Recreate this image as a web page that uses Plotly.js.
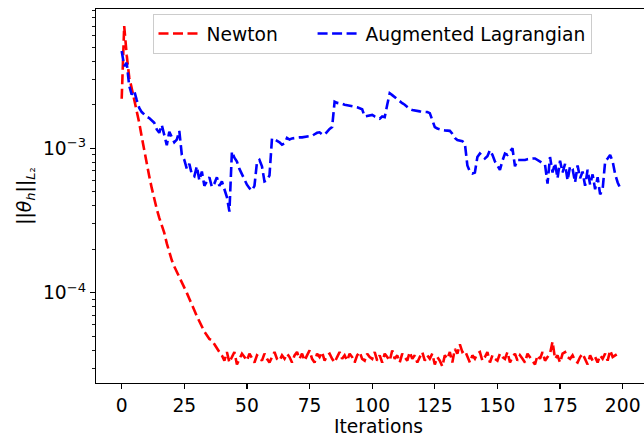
<!DOCTYPE html>
<html>
<head>
<meta charset="utf-8">
<script src="https://cdn.plot.ly/plotly-3.0.1.min.js"></script>
<style>
html, body { margin: 0; padding: 0; overflow: hidden; background: #fff; }
#chart { width: 680px; height: 439px; }
</style>
</head>
<body>
<div id="chart"></div>
<script>
const seriesNames = ["Newton", "Augmented Lagrangian"];

const newton = [
  2.2e-3, 7.0e-3, 4.4e-3, 3.1e-3, 2.6e-3, 2.2e-3, 1.85e-3, 1.5e-3, 1.2e-3, 9.6e-4,
  7.8e-4, 6.4e-4, 5.3e-4, 4.4e-4, 3.8e-4, 3.3e-4, 2.95e-4, 2.6e-4, 2.2e-4, 1.9e-4,
  1.68e-4, 1.52e-4, 1.4e-4, 1.28e-4, 1.2e-4, 1.1e-4, 1.0e-4, 9.1e-5, 8.4e-5, 7.6e-5,
  6.9e-5, 6.3e-5, 5.8e-5, 5.4e-5, 5.1e-5, 4.8e-5, 4.7e-5, 4.4e-5, 4.2e-5, 3.9e-5,
  3.7e-5, 3.4e-5, 3.9e-5, 3.3e-5, 3.6e-5, 3.9e-5, 3.2e-5, 3.5e-5, 3.8e-5, 3.6e-5,
  3.4e-5, 3.8e-5, 3.5e-5, 3.3e-5, 3.7e-5, 3.6e-5, 3.4e-5, 3.8e-5, 3.5e-5, 3.3e-5,
  3.6e-5, 3.9e-5, 3.5e-5, 3.4e-5, 3.7e-5, 3.5e-5, 3.8e-5, 3.6e-5, 3.3e-5, 3.7e-5,
  3.9e-5, 3.5e-5, 3.8e-5, 3.4e-5, 3.7e-5, 4.0e-5, 3.5e-5, 3.3e-5, 3.8e-5, 3.6e-5,
  3.9e-5, 3.4e-5, 3.7e-5, 3.8e-5, 3.5e-5, 3.3e-5, 3.6e-5, 3.9e-5, 3.5e-5, 3.7e-5,
  3.4e-5, 3.8e-5, 3.6e-5, 3.3e-5, 3.7e-5, 3.9e-5, 3.5e-5, 3.4e-5, 3.8e-5, 3.6e-5,
  3.5e-5, 3.9e-5, 3.4e-5, 3.7e-5, 3.3e-5, 3.8e-5, 3.6e-5, 3.4e-5, 4.0e-5, 3.5e-5,
  3.7e-5, 3.3e-5, 3.8e-5, 3.6e-5, 3.4e-5, 3.9e-5, 3.5e-5, 3.7e-5, 3.3e-5, 3.6e-5,
  3.9e-5, 3.4e-5, 3.7e-5, 3.5e-5, 3.8e-5, 3.2e-5, 3.6e-5, 3.4e-5, 3.1e-5, 3.7e-5,
  3.5e-5, 3.9e-5, 3.3e-5, 4.1e-5, 3.8e-5, 4.4e-5, 3.9e-5, 4.0e-5, 3.6e-5, 3.3e-5,
  3.7e-5, 3.5e-5, 3.8e-5, 3.9e-5, 3.4e-5, 3.6e-5, 3.9e-5, 3.3e-5, 3.7e-5, 3.5e-5,
  3.4e-5, 3.8e-5, 3.6e-5, 3.5e-5, 3.9e-5, 3.3e-5, 3.6e-5, 3.8e-5, 3.4e-5, 3.7e-5,
  3.5e-5, 3.3e-5, 3.8e-5, 3.6e-5, 3.4e-5, 3.2e-5, 3.7e-5, 3.5e-5, 3.9e-5, 3.4e-5,
  3.6e-5, 3.8e-5, 4.6e-5, 3.5e-5, 3.7e-5, 3.3e-5, 3.8e-5, 3.9e-5, 3.6e-5, 3.5e-5,
  3.7e-5, 3.4e-5, 3.3e-5, 3.6e-5, 3.8e-5, 3.5e-5, 3.2e-5, 3.7e-5, 3.4e-5, 3.6e-5,
  3.3e-5, 3.7e-5, 3.5e-5, 3.8e-5, 3.4e-5, 4.0e-5, 3.6e-5, 3.7e-5, 3.8e-5, 3.8e-5
];

const augLag = [
  4.7e-3, 3.7e-3, 3.9e-3, 2.7e-3, 2.35e-3, 2.5e-3, 2.15e-3, 1.9e-3, 1.78e-3, 1.7e-3,
  1.65e-3, 1.62e-3, 1.56e-3, 1.5e-3, 1.35e-3, 1.28e-3, 1.45e-3, 1.22e-3, 1.05e-3, 1.3e-3,
  1.2e-3, 1.1e-3, 1.15e-3, 1.32e-3, 9.0e-4, 8.3e-4, 7.2e-4, 7.8e-4, 6.6e-4, 6.4e-4,
  7.5e-4, 6.0e-4, 6.9e-4, 5.5e-4, 5.9e-4, 6.3e-4, 5.4e-4, 5.7e-4, 6.3e-4, 5.5e-4,
  5.9e-4, 5.2e-4, 4.6e-4, 3.65e-4, 9.5e-4, 8.6e-4, 8.1e-4, 7.2e-4, 6.6e-4, 6.0e-4,
  5.6e-4, 5.3e-4, 5.1e-4, 5.5e-4, 8.0e-4, 8.3e-4, 7.5e-4, 5.9e-4, 6.0e-4, 6.5e-4,
  1.17e-3, 1.15e-3, 1.13e-3, 1.1e-3, 1.06e-3, 1.08e-3, 1.18e-3, 1.15e-3, 1.17e-3, 1.18e-3,
  1.18e-3, 1.19e-3, 1.19e-3, 1.2e-3, 1.2e-3, 1.21e-3, 1.22e-3, 1.25e-3, 1.28e-3, 1.29e-3,
  1.25e-3, 1.24e-3, 1.3e-3, 1.36e-3, 1.4e-3, 2.1e-3, 2.06e-3, 2.05e-3, 2.03e-3, 2.0e-3,
  1.99e-3, 1.97e-3, 1.96e-3, 1.94e-3, 1.92e-3, 1.9e-3, 1.86e-3, 1.66e-3, 1.68e-3, 1.7e-3,
  1.7e-3, 1.66e-3, 1.62e-3, 1.6e-3, 1.66e-3, 1.64e-3, 2.0e-3, 2.4e-3, 2.33e-3, 2.25e-3,
  2.18e-3, 2.1e-3, 2.05e-3, 2.0e-3, 1.92e-3, 1.87e-3, 1.84e-3, 1.82e-3, 1.8e-3, 1.8e-3,
  1.79e-3, 1.79e-3, 1.78e-3, 1.75e-3, 1.58e-3, 1.4e-3, 1.37e-3, 1.35e-3, 1.34e-3, 1.33e-3,
  1.32e-3, 1.32e-3, 1.26e-3, 1.18e-3, 1.14e-3, 1.13e-3, 1.12e-3, 1.08e-3, 7.6e-4, 6.9e-4,
  6.7e-4, 6.8e-4, 8.7e-4, 9.2e-4, 8.8e-4, 8.5e-4, 8.8e-4, 9.7e-4, 9.0e-4, 8.1e-4,
  7.6e-4, 7.1e-4, 8.2e-4, 9.2e-4, 9.0e-4, 9.5e-4, 1.0e-3, 7.5e-4, 8.3e-4, 8.3e-4,
  8.3e-4, 8.3e-4, 8.4e-4, 8.5e-4, 8.5e-4, 8.5e-4, 8.3e-4, 8.1e-4, 7.9e-4, 7.7e-4,
  5.7e-4, 8.7e-4, 6.8e-4, 7.9e-4, 6.2e-4, 8.2e-4, 6.8e-4, 7.8e-4, 6.0e-4, 7.5e-4,
  7.2e-4, 5.8e-4, 7.6e-4, 6.2e-4, 6.9e-4, 5.5e-4, 7.1e-4, 5.6e-4, 6.6e-4, 5.2e-4,
  6.3e-4, 4.8e-4, 5.2e-4, 8.1e-4, 8.5e-4, 9.0e-4, 8.1e-4, 6.6e-4, 5.8e-4, 5.3e-4
];

const xTickVals = [0, 25, 50, 75, 100, 125, 150, 175, 200];
const yTickVals = [1e-4, 1e-3];
const yTickText = ["10<sup>\u22124</sup>", "10<sup>\u22123</sup>"];
const yMinorVals = [3e-5, 4e-5, 5e-5, 6e-5, 7e-5, 8e-5, 9e-5, 2e-4, 3e-4, 4e-4, 5e-4, 6e-4, 7e-4, 8e-4, 9e-4, 2e-3, 3e-3, 4e-3, 5e-3, 6e-3, 7e-3, 8e-3, 9e-3];

const iterNewton = newton.map((_, i) => i);
const iterAug = augLag.map((_, i) => i);

const font = "DejaVu Sans, sans-serif";
const fs = 18.7;
const pad = "\u00a0\u00a0\u00a0\u00a0\u00a0";

const traces = [
  {
    x: iterNewton, y: newton, name: seriesNames[0] + pad, type: "scatter", mode: "lines",
    line: { color: "#ff0000", width: 2.6, dash: "10px,4.5px" }
  },
  {
    x: iterAug, y: augLag, name: seriesNames[1], type: "scatter", mode: "lines",
    line: { color: "#0000ff", width: 2.6, dash: "10px,4.5px" }
  }
];

const layout = {
  width: 680, height: 439,
  margin: { l: 96, r: 19, t: 9, b: 56, pad: 0 },
  paper_bgcolor: "#fff", plot_bgcolor: "#fff",
  font: { family: font, size: fs, color: "#000" },
  showlegend: true,
  legend: {
    orientation: "h", x: 0.1, y: 0.987, xanchor: "left", yanchor: "top",
    bgcolor: "rgba(255,255,255,0.8)", bordercolor: "#cccccc", borderwidth: 1,
    itemwidth: 43,
    font: { family: font, size: fs, color: "#000" }
  },
  xaxis: {
    range: [-10.26, 215.3], showgrid: false, zeroline: false,
    showline: true, linecolor: "#000", linewidth: 1.2, mirror: true,
    ticks: "outside", ticklen: 5, tickwidth: 1.2, tickcolor: "#000",
    tickvals: xTickVals, ticktext: xTickVals.map(String),
    tickfont: { family: font, size: fs },
    title: { text: "Iterations", font: { family: font, size: fs }, standoff: 4 }
  },
  yaxis: {
    type: "log", range: [-4.623, -2.037], showgrid: false, zeroline: false,
    showline: true, linecolor: "#000", linewidth: 1.2, mirror: true,
    ticks: "outside", ticklen: 5, tickwidth: 1.2, tickcolor: "#000",
    tickvals: yTickVals, ticktext: yTickText,
    tickfont: { family: font, size: fs },
    minor: { ticks: "outside", ticklen: 3, tickwidth: 0.9, tickcolor: "#000", showgrid: false, tickvals: yMinorVals },
    title: { text: "||<i>θ</i><sub><i>h</i></sub>||<sub><i>L</i>\u2082</sub>", font: { family: font, size: fs }, standoff: 6 }
  }
};

Plotly.newPlot("chart", traces, layout, { displayModeBar: false, staticPlot: true });
</script>
</body>
</html>
